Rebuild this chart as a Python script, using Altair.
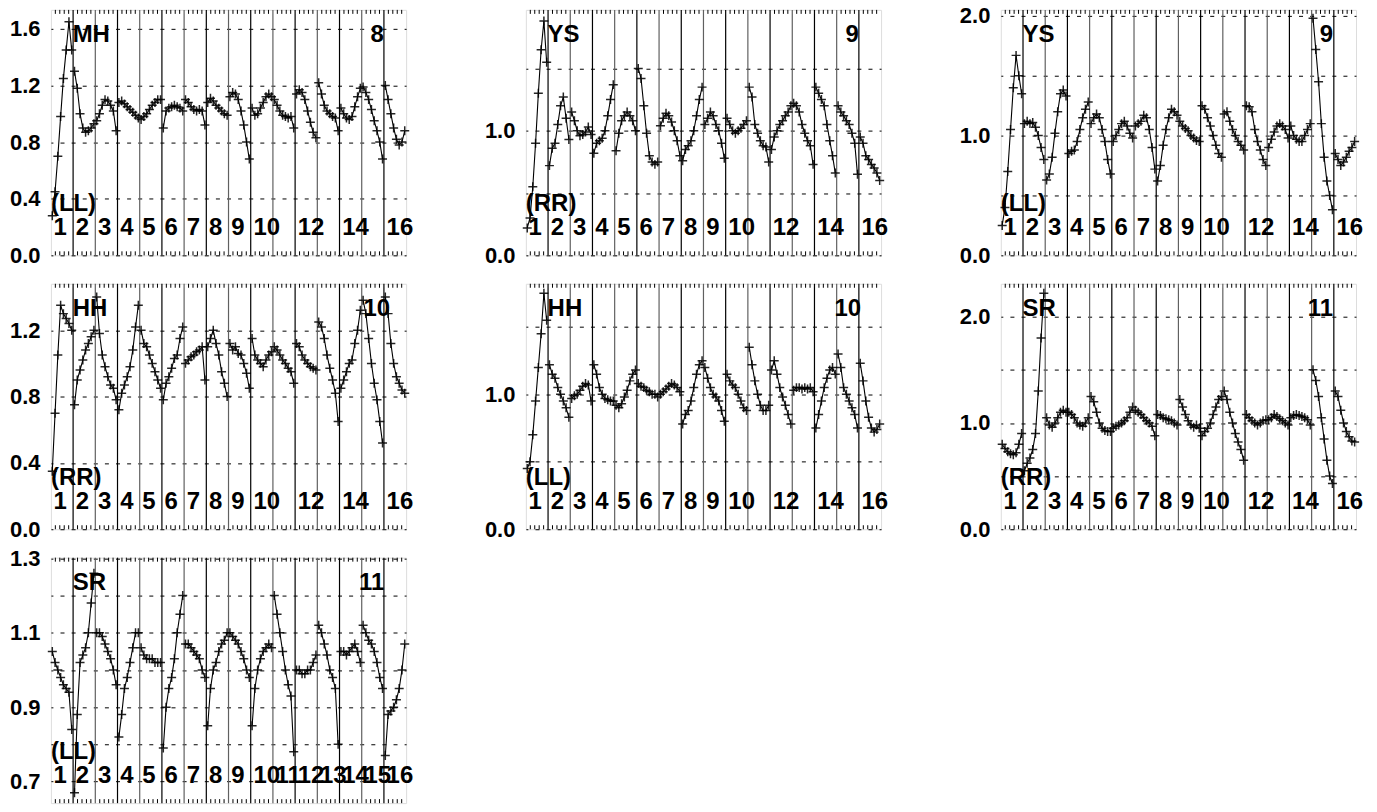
import altair as alt
import pandas as pd

NSEG = 16
NPT = 8

# ---- values (8 samples per channel segment, 16 segments) ----
mh_8_ll = [
    0.28, 0.45, 0.70, 0.98, 1.25, 1.45, 1.65, 1.45,
    1.30, 1.18, 1.00, 0.90, 0.87, 0.88, 0.90, 0.93,
    0.95, 1.00, 1.06, 1.10, 1.09, 1.06, 1.02, 0.88,
    1.08, 1.09, 1.07, 1.05, 1.03, 1.01, 0.99, 0.97,
    0.96, 0.98, 1.00, 1.03, 1.06, 1.08, 1.10, 1.10,
    0.90, 1.02, 1.04, 1.05, 1.06, 1.05, 1.04, 1.02,
    1.10, 1.08, 1.05, 1.03, 1.02, 1.03, 1.02, 0.92,
    1.08, 1.11, 1.09, 1.06, 1.04, 1.02, 1.00, 0.99,
    1.12, 1.15, 1.14, 1.10, 1.02, 0.92, 0.80, 0.68,
    1.04, 0.99, 1.00, 1.04, 1.08, 1.12, 1.14, 1.12,
    1.10, 1.06, 1.02, 0.99, 0.98, 0.97, 0.98, 0.90,
    1.14, 1.17, 1.15, 1.10, 1.02, 0.94, 0.87, 0.83,
    1.22, 1.14, 1.06, 1.02, 1.00, 0.98, 0.97, 0.88,
    1.04, 1.00, 0.97, 0.96, 0.98, 1.05, 1.12, 1.18,
    1.19, 1.15, 1.10, 1.03, 0.95, 0.88, 0.80, 0.68,
    1.20, 1.10, 1.00, 0.90, 0.82, 0.78, 0.80, 0.88,
]

ys_9_rr = [
    0.22, 0.30, 0.55, 0.90, 1.30, 1.65, 1.88, 1.55,
    0.72, 0.86, 0.90, 1.05, 1.20, 1.27, 1.10, 0.93,
    1.15, 1.08, 1.00, 0.96, 0.97, 0.99, 1.03, 0.97,
    0.82, 0.90, 0.92, 0.94, 1.00, 1.12, 1.25, 1.37,
    0.84, 0.98, 1.08, 1.12, 1.15, 1.12, 1.08, 1.00,
    1.50, 1.42, 1.20, 0.98, 0.80, 0.75, 0.73, 0.75,
    1.04, 1.10, 1.14, 1.12, 1.07, 1.00, 0.92, 0.80,
    0.76, 0.85, 0.88, 0.92, 1.00, 1.12, 1.25, 1.35,
    1.05, 1.10, 1.15, 1.12, 1.05, 1.00, 0.90, 0.78,
    1.10, 1.05, 1.00, 0.98, 1.00, 1.02, 1.05, 1.08,
    1.35, 1.27, 1.05, 0.98, 0.92, 0.88, 0.87, 0.75,
    0.85, 0.95, 1.00, 1.05, 1.08, 1.12, 1.15, 1.20,
    1.22, 1.20, 1.15, 1.05, 0.98, 0.92, 0.88, 0.73,
    1.35, 1.30, 1.25, 1.20, 1.05, 0.92, 0.80, 0.66,
    1.20, 1.15, 1.12, 1.08, 1.05, 0.98, 0.90, 0.65,
    0.95, 0.90, 0.80, 0.77, 0.73, 0.70, 0.66, 0.60,
]

ys_9_ll = [
    0.25, 0.40, 0.70, 1.05, 1.40, 1.67, 1.50, 1.35,
    1.10, 1.12, 1.10, 1.11, 1.07, 1.00, 0.90, 0.80,
    0.63, 0.68, 0.82, 1.02, 1.20, 1.35, 1.38, 1.33,
    0.85, 0.87, 0.88, 0.95, 1.05, 1.15, 1.22, 1.28,
    1.10, 1.15, 1.18, 1.15, 1.05, 0.95, 0.80, 0.68,
    0.95, 1.00, 1.05, 1.10, 1.12, 1.08, 1.02, 0.98,
    1.08, 1.10, 1.12, 1.17, 1.15, 1.05, 0.90, 0.72,
    0.62, 0.75, 0.92, 1.05, 1.15, 1.22, 1.20, 1.17,
    1.12, 1.08, 1.06, 1.04, 1.00, 0.98, 0.96, 0.95,
    1.25, 1.22, 1.15, 1.08, 1.00, 0.92, 0.85, 0.82,
    1.18, 1.20, 1.12, 1.05, 1.00, 0.95, 0.92, 0.88,
    1.25, 1.24, 1.20, 1.05, 0.95, 0.88, 0.80, 0.75,
    0.90, 0.97, 1.03, 1.08, 1.10, 1.08, 1.05, 0.98,
    1.08, 1.00, 0.97, 0.95, 0.95, 1.00, 1.05, 1.10,
    1.98, 1.72, 1.45, 1.10, 0.82, 0.62, 0.50, 0.38,
    0.85, 0.80, 0.75, 0.78, 0.82, 0.87, 0.90, 0.95,
]

hh_10_rr = [
    0.35, 0.70, 1.05, 1.35, 1.30, 1.27, 1.24, 1.20,
    0.75, 0.90, 0.96, 1.02, 1.08, 1.12, 1.16, 1.20,
    1.40, 1.18, 1.05, 0.98, 0.92, 0.87, 0.85, 0.78,
    0.72, 0.82, 0.87, 0.92, 0.98, 1.08, 1.22, 1.35,
    1.20, 1.12, 1.10, 1.05, 1.00, 0.95, 0.90, 0.85,
    0.78, 0.88, 0.92, 0.97, 1.03, 1.05, 1.15, 1.22,
    1.00, 1.02, 1.04, 1.05, 1.07, 1.08, 1.10, 0.90,
    1.10, 1.15, 1.20, 1.12, 1.05, 0.95, 0.88, 0.80,
    1.12, 1.08, 1.10, 1.06, 1.05, 1.00, 0.94, 0.85,
    1.15, 1.05, 1.02, 1.00, 0.98, 1.02, 1.05, 1.07,
    1.10, 1.08, 1.05, 1.02, 1.00, 0.97, 0.95, 0.88,
    1.12, 1.10, 1.05, 1.02, 1.00, 0.98, 0.97, 0.96,
    1.25, 1.22, 1.15, 1.05, 0.97, 0.90, 0.82, 0.65,
    0.85, 0.90, 0.95, 1.00, 1.02, 1.12, 1.20, 1.32,
    1.38, 1.30, 1.15, 1.00, 0.88, 0.78, 0.65, 0.52,
    1.40, 1.30, 1.12, 1.00, 0.92, 0.88, 0.84, 0.82,
]

hh_10_ll = [
    0.45, 0.50, 0.70, 0.95, 1.20, 1.45, 1.75, 1.55,
    1.22, 1.15, 1.12, 1.05, 1.00, 0.95, 0.90, 0.83,
    0.97, 0.99, 1.00, 1.03, 1.06, 1.08, 1.07, 0.95,
    1.22, 1.15, 1.05, 1.00, 0.97, 0.96, 0.95, 0.95,
    0.92, 0.90, 0.93, 0.98, 1.03, 1.10, 1.15, 1.18,
    1.08, 1.06, 1.05, 1.03, 1.02, 1.00, 1.00, 0.98,
    1.00, 1.02, 1.04, 1.06, 1.08, 1.07, 1.05, 1.02,
    0.78, 0.85, 0.88, 0.95, 1.05, 1.15, 1.22, 1.25,
    1.20, 1.12, 1.05, 1.00, 0.98, 0.95, 0.88, 0.80,
    1.15, 1.10, 1.07, 1.05, 1.00, 0.95, 0.90, 0.88,
    1.35, 1.22, 1.10, 1.00, 0.92, 0.88, 0.88, 0.92,
    1.18, 1.25, 1.15, 1.05, 0.98, 0.92, 0.85, 0.78,
    1.03, 1.05, 1.05, 1.04, 1.05, 1.04, 1.05, 1.02,
    0.75, 0.85, 0.95, 1.05, 1.12, 1.18, 1.20, 1.15,
    1.30, 1.20, 1.05, 1.00, 0.95, 0.90, 0.85, 0.75,
    1.23, 1.10, 0.95, 0.83, 0.75, 0.72, 0.74, 0.78,
]

sr_11_rr = [
    0.80, 0.76, 0.73, 0.71, 0.70, 0.72, 0.80, 0.90,
    0.55, 0.62, 0.67, 0.75, 0.90, 1.30, 1.80, 2.22,
    1.05, 0.98, 0.96, 1.00, 1.05, 1.10, 1.12, 1.10,
    1.10, 1.08, 1.05, 1.00, 0.98, 0.97, 1.00, 1.05,
    1.25, 1.20, 1.10, 1.00, 0.95, 0.93, 0.92, 0.92,
    0.95, 0.97, 0.98, 1.00, 1.02, 1.05, 1.10, 1.15,
    1.12, 1.10, 1.08, 1.05, 1.02, 1.00, 0.97, 0.88,
    1.08, 1.07, 1.05, 1.04, 1.03, 1.02, 1.00, 0.98,
    1.22, 1.15, 1.08, 1.02, 0.98, 0.96, 0.98, 0.95,
    0.88, 0.92, 0.95, 1.00, 1.08, 1.15, 1.22, 1.25,
    1.30, 1.22, 1.10, 1.00, 0.90, 0.82, 0.75, 0.65,
    1.08, 1.05, 1.02, 1.00, 0.98, 1.00, 1.02, 1.03,
    1.03, 1.05, 1.08, 1.06, 1.04, 1.02, 1.00, 0.98,
    1.05, 1.07, 1.08, 1.07, 1.06, 1.05, 1.03, 0.98,
    1.50, 1.40, 1.25, 1.05, 0.85, 0.65, 0.50, 0.43,
    1.30, 1.25, 1.12, 1.00, 0.92, 0.87, 0.83, 0.82,
]

sr_11_ll = [
    1.05, 1.02, 1.00, 0.98, 0.96, 0.95, 0.94, 0.84,
    0.67, 0.88, 1.02, 1.04, 1.06, 1.10, 1.18, 1.26,
    1.10, 1.10, 1.09, 1.07, 1.05, 1.03, 1.00, 0.96,
    0.82, 0.88, 0.95, 0.98, 1.02, 1.06, 1.10, 1.10,
    1.06, 1.04, 1.03, 1.03, 1.03, 1.02, 1.02, 1.02,
    0.79, 0.90, 0.95, 0.98, 1.03, 1.10, 1.15, 1.20,
    1.07, 1.07, 1.06, 1.05, 1.04, 1.03, 1.00, 0.98,
    0.85, 0.95, 1.00, 1.02, 1.05, 1.07, 1.08, 1.10,
    1.10, 1.09, 1.08, 1.07, 1.05, 1.03, 1.00, 0.98,
    0.85, 0.95, 1.00, 1.03, 1.05, 1.06, 1.07, 1.06,
    1.20, 1.15, 1.10, 1.05, 1.00, 0.96, 0.93, 0.78,
    1.00, 1.00, 0.99, 0.99, 1.00, 1.00, 1.02, 1.04,
    1.12, 1.10, 1.07, 1.04, 1.00, 0.98, 0.95, 0.80,
    1.05, 1.05, 1.04, 1.05, 1.06, 1.07, 1.05, 1.02,
    1.12, 1.10, 1.08, 1.07, 1.05, 1.02, 0.98, 0.95,
    0.77, 0.88, 0.89, 0.90, 0.92, 0.95, 1.00, 1.07,
]

names = ["MH", "YS", "YS", "HH", "HH", "SR", "SR"]
numbers = ["8", "9", "9", "10", "10", "11", "11"]
sides = ["(LL)", "(RR)", "(LL)", "(RR)", "(LL)", "(RR)", "(LL)"]
series = [mh_8_ll, ys_9_rr, ys_9_ll, hh_10_rr, hh_10_ll, sr_11_rr, sr_11_ll]
domains = [[0, 1.734], [0, 1.97], [0, 2.05], [0, 1.48], [0, 1.82], [0, 2.31], [0.642, 1.302]]
grid_steps = [0.2, 0.5, 0.5, 0.2, 0.5, 0.5, 0.1]
label_steps = [0.4, 1.0, 1.0, 0.4, 1.0, 1.0, 0.2]
label_starts = [0.0, 0.0, 0.0, 0.0, 0.0, 0.0, 0.7]
number_x = [14.7, 14.7, 14.67, 14.68, 14.5, 14.4, 14.45]
channel_labels_short = [1, 2, 3, 4, 5, 6, 7, 8, 9, 10, 12, 14, 16]
channel_labels_full = list(range(1, 17))

W, H = 356, 246
FONT = "Liberation Sans"
FS_AXIS = 22
FS = 24
CROSS = "M-1,0L1,0M0,-1L0,1"


def make_panel(idx):
    vals = series[idx]
    n = len(vals)
    df = pd.DataFrame({
        "x": [(i // NPT) + ((i % NPT) + 0.5) / NPT for i in range(n)],
        "y": vals,
        "seg": [i // NPT for i in range(n)],
    })
    lo, hi = domains[idx]
    gs = grid_steps[idx]
    ls = label_steps[idx]
    l0 = label_starts[idx]
    start = 0.0 if lo == 0 else 0.7
    gvals = []
    k = 0
    while start + k * gs <= hi + 1e-9:
        gvals.append(round(start + k * gs, 3))
        k += 1
    label_expr = (
        f"abs((datum.value - {l0}) / {ls} - round((datum.value - {l0}) / {ls})) < 0.001"
        " ? format(datum.value, '.1f') : ''"
    )
    xs = alt.Scale(domain=[0, NSEG], nice=False, zero=False)
    ys = alt.Scale(domain=[lo, hi], nice=False, zero=False)
    yaxis = alt.Axis(
        values=gvals, labelExpr=label_expr, grid=True, gridDash=[4, 7.125],
        gridDashOffset=2, gridColor="black", gridOpacity=1, gridWidth=1,
        ticks=False, domain=False, labelFont=FONT, labelFontWeight="bold",
        labelFontSize=FS_AXIS, labelColor="black", labelPadding=11,
        minExtent=42, maxExtent=42, title=None, labelOverlap=False,
        labelFlush=False,
    )
    X = lambda f: alt.X(f, scale=xs, axis=None)

    base = alt.Chart(df)
    line = base.mark_line(color="black", strokeWidth=1.1).encode(
        x=X("x:Q"), y=alt.Y("y:Q", scale=ys, axis=yaxis), detail="seg:N")
    pts = base.mark_point(shape=CROSS, size=81, color="black", filled=False,
                          strokeWidth=1.5, opacity=0.85).encode(
        x=X("x:Q"), y=alt.Y("y:Q", scale=ys))

    bdf = pd.DataFrame({"b": list(range(1, NSEG)),
                        "c": ["#000000" if b % 2 else "#606060" for b in range(1, NSEG)]})
    vlines = alt.Chart(bdf).mark_rule(strokeWidth=1.2).encode(
        x=X("b:Q"), color=alt.Color("c:N", scale=None))

    tdf = pd.DataFrame({"t": [k + j * 0.2 for k in range(NSEG) for j in range(1, 5)]})
    top_ticks = alt.Chart(tdf).mark_rule(color="black", strokeWidth=1).encode(
        x=X("t:Q"), y=alt.value(0), y2=alt.value(4))
    bot_ticks = alt.Chart(tdf).mark_rule(color="black", strokeWidth=1).encode(
        x=X("t:Q"), y=alt.value(H), y2=alt.value(H - 4))

    labs = channel_labels_full if idx == 6 else channel_labels_short
    cdf = pd.DataFrame({"cx": [c - 1 + 0.12 for c in labs], "ct": [str(c) for c in labs]})
    ch_text = alt.Chart(cdf).mark_text(
        font=FONT, fontWeight="bold", fontSize=FS, align="left", baseline="middle",
        color="black").encode(x=X("cx:Q"), y=alt.value(H - 27), text="ct:N")

    ndf = pd.DataFrame({"nx": [0.98], "nt": [names[idx]]})
    name_text = alt.Chart(ndf).mark_text(
        font=FONT, fontWeight="bold", fontSize=FS, align="left", baseline="middle",
        color="black").encode(x=X("nx:Q"), y=alt.value(25), text="nt:N")
    mdf = pd.DataFrame({"mx": [number_x[idx]], "mt": [numbers[idx]]})
    num_text = alt.Chart(mdf).mark_text(
        font=FONT, fontWeight="bold", fontSize=FS, align="center", baseline="middle",
        color="black").encode(x=X("mx:Q"), y=alt.value(25), text="mt:N")
    sdf = pd.DataFrame({"sx": [0.0], "st": [sides[idx]]})
    side_text = alt.Chart(sdf).mark_text(
        font=FONT, fontWeight="bold", fontSize=FS, align="left", baseline="middle",
        color="black").encode(x=X("sx:Q"), y=alt.value(H - 51), text="st:N")

    return alt.layer(line, vlines, pts, ch_text, name_text, num_text, side_text,
                     top_ticks, bot_ticks).properties(width=W, height=H)


panels = [make_panel(i) for i in range(7)]

chart = alt.concat(
    *panels, columns=3, spacing={"row": 28.5, "column": 120}, bounds="flush"
).properties(
    padding={"left": 0, "top": -5, "right": 5, "bottom": 0}
).configure_view(stroke="black", strokeWidth=1).configure(background="white")

chart.save("out.html", embed_options={"renderer": "svg", "actions": False})
